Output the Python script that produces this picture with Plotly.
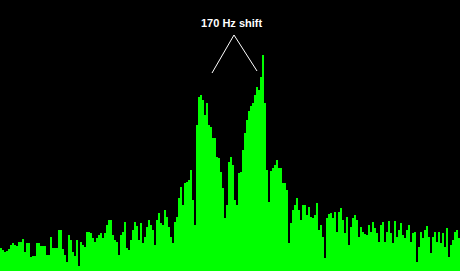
import plotly.graph_objects as go

# Spectrum levels per frequency bin (height above the noise floor baseline)
levels = [
    23, 21, 19, 20, 22, 26, 28, 26, 25, 29, 29, 32, 19, 28, 28, 14, 15, 15, 28, 28,
    25, 25, 25, 16, 16, 34, 23, 23, 23, 41, 41, 22, 16, 9, 36, 31, 19, 15, 31, 5,
    29, 26, 24, 39, 39, 38, 33, 29, 33, 36, 38, 33, 38, 46, 51, 51, 36, 31, 29, 16,
    36, 39, 49, 23, 21, 31, 41, 49, 45, 31, 48, 28, 34, 44, 51, 46, 41, 26, 51, 58,
    48, 46, 61, 54, 44, 34, 28, 49, 54, 73, 84, 66, 88, 89, 91, 101, 71, 46, 146, 174,
    176, 171, 156, 168, 146, 144, 133, 133, 114, 113, 99, 83, 53, 66, 109, 114, 106, 71, 66, 98,
    99, 121, 138, 151, 160, 165, 168, 176, 184, 181, 194, 216, 168, 101, 69, 100, 103, 106, 111, 103,
    103, 88, 88, 81, 28, 48, 61, 66, 73, 61, 51, 66, 66, 56, 64, 54, 53, 56, 68, 41,
    46, 34, 13, 53, 57, 58, 53, 59, 39, 59, 63, 51, 38, 54, 26, 44, 53, 56, 51, 34,
    44, 39, 37, 36, 46, 39, 49, 43, 38, 29, 46, 49, 29, 39, 50, 38, 28, 50, 34, 41,
    48, 36, 33, 41, 46, 29, 38, 39, 9, 24, 39, 33, 41, 45, 34, 18, 34, 39, 29, 39,
    28, 38, 24, 43, 14, 26, 31, 39, 41, 33,
]
bins = list(range(len(levels) + 1))
label = "170 Hz shift"

y_vals = levels + [levels[-1]]

fig = go.Figure()
fig.add_trace(go.Scatter(
    x=bins, y=y_vals, mode="lines", line_shape="hv",
    line=dict(width=0, color="#00ff00"),
    fill="tozeroy", fillcolor="#00ff00", hoverinfo="skip",
))

# annotation lines (an inverted V pointing toward the two tones)
fig.add_shape(type="line", x0=106, y0=198, x1=117, y1=236,
              line=dict(color="white", width=1))
fig.add_shape(type="line", x0=117, y0=236, x1=128.5, y1=200,
              line=dict(color="white", width=1))
fig.add_annotation(x=115.5, y=248, text="<b>%s</b>" % label, showarrow=False,
                   font=dict(family="Liberation Sans, Arial, sans-serif", size=11, color="white"),
                   xanchor="center", yanchor="middle")

fig.update_layout(
    width=460, height=271, margin=dict(l=0, r=0, t=0, b=0),
    paper_bgcolor="black", plot_bgcolor="black", showlegend=False,
    xaxis=dict(range=[0, len(levels)], visible=False, fixedrange=True),
    yaxis=dict(range=[0, 271], visible=False, fixedrange=True),
)
fig.write_html("out.html", config={"displayModeBar": False})
